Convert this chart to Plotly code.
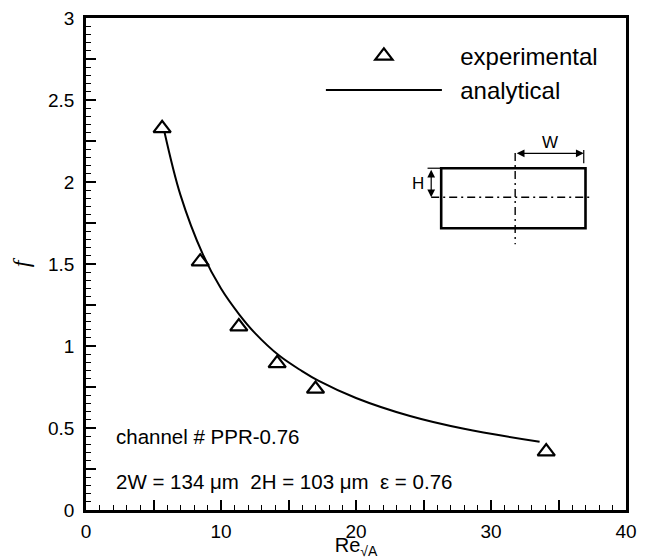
import plotly.graph_objects as go

# ---- data ----
re_exp = [5.64, 8.46, 11.32, 14.16, 17.0, 34.09]
f_exp = [2.327, 1.514, 1.118, 0.894, 0.738, 0.356]

re_ana = [5.8, 7.0, 8.65, 10.0, 11.37, 12.5, 14.33, 16.0, 17.17, 20.0, 24.0, 28.0, 33.6]
f_ana = [2.31, 1.92, 1.56, 1.35, 1.19, 1.08, 0.94, 0.847, 0.79, 0.683, 0.573, 0.495, 0.416]

x_tickvals = [0, 5, 10, 15, 20, 25, 30, 35, 40]
x_ticktext = ["0", "", "10", "", "20", "", "30", "", "40"]
y_tickvals = [0, 0.25, 0.5, 0.75, 1, 1.25, 1.5, 1.75, 2, 2.25, 2.5, 2.75, 3]
y_ticktext = ["0", "", "0.5", "", "1", "", "1.5", "", "2", "", "2.5", "", "3"]

FONT = "Liberation Sans, Arial, Helvetica, sans-serif"
NB = "\u00a0"

fig = go.Figure()
fig.add_trace(go.Scatter(
    x=re_exp, y=f_exp, mode="markers", name=NB * 2 + "experimental",
    marker=dict(symbol="triangle-up-open", size=15, color="black",
                line=dict(width=2.2, color="black")),
))
fig.add_trace(go.Scatter(
    x=re_ana, y=f_ana, mode="lines", name=NB * 2 + "analytical",
    line=dict(color="black", width=2, shape="spline", smoothing=1.0),
))

# ---- inset sketch of channel cross-section ----
shapes = [
    dict(type="rect", xref="x", yref="y", x0=26.31, x1=37.0, y0=1.718, y1=2.084,
         line=dict(color="black", width=2.6)),
    dict(type="line", xref="x", yref="y", x0=31.79, x1=31.79, y0=2.177, y1=1.62,
         line=dict(color="black", width=1.4, dash="8px,4px,2px,4px")),
    dict(type="line", xref="x", yref="y", x0=25.57, x1=37.54, y0=1.907, y1=1.907,
         line=dict(color="black", width=1.4, dash="8px,4px,2px,4px")),
    dict(type="line", xref="x", yref="y", x0=36.87, x1=36.87, y0=2.195, y1=2.114,
         line=dict(color="black", width=1.2)),
    dict(type="line", xref="x", yref="y", x0=25.3, x1=26.31, y0=2.084, y1=2.084,
         line=dict(color="black", width=1.2)),
]

annotations = [
    dict(x=36.87, y=2.175, ax=31.79, ay=2.175, xref="x", yref="y", axref="x", ayref="y",
         text="", showarrow=True, arrowside="end+start", arrowhead=2, arrowsize=1.3,
         arrowwidth=1.2, arrowcolor="black"),
    dict(x=25.57, y=1.907, ax=25.57, ay=2.084, xref="x", yref="y", axref="x", ayref="y",
         text="", showarrow=True, arrowside="end+start", arrowhead=2, arrowsize=1.3,
         arrowwidth=1.2, arrowcolor="black"),
    dict(x=34.4, y=2.238, xref="x", yref="y", text="W", showarrow=False,
         font=dict(family=FONT, size=17, color="black")),
    dict(x=25.15, y=1.99, xref="x", yref="y", text="H", showarrow=False, xanchor="right",
         font=dict(family=FONT, size=17, color="black")),
    dict(x=2.1, y=0.447, xref="x", yref="y", text="channel # PPR-0.76", showarrow=False,
         xanchor="left", font=dict(family=FONT, size=20.5, color="black")),
    dict(x=2.1, y=0.173, xref="x", yref="y",
         text="2W = 134 \u03bcm" + NB * 2 + "2H = 103 \u03bcm" + NB * 2 + "\u03b5 = 0.76",
         showarrow=False, xanchor="left", font=dict(family=FONT, size=20.5, color="black")),
]

axis_common = dict(
    showgrid=False, zeroline=False, showline=True, linecolor="black", linewidth=2.6,
    mirror=True, ticks="inside", ticklen=10, tickwidth=2.4, tickcolor="black",
    tickmode="array", tickfont=dict(family=FONT, size=19, color="black"),
    automargin=False, ticklabeloverflow="allow",
)

# page body has an 8px default margin, so the figure is 8px smaller than the window
fig.update_layout(
    width=638, height=551,
    margin=dict(l=78, r=20, t=10, b=49),
    paper_bgcolor="white", plot_bgcolor="white",
    showlegend=True,
    legend=dict(x=0.435, y=0.968, xanchor="left", yanchor="top",
                bgcolor="rgba(0,0,0,0)", itemwidth=116,
                font=dict(family=FONT, size=24, color="black"), tracegroupgap=0),
    xaxis=dict(range=[0, 40], tickvals=x_tickvals, ticktext=x_ticktext,
               minor=dict(ticks="inside", ticklen=5, tickwidth=1, tickcolor="black",
                          tickmode="linear", tick0=0, dtick=1),
               title=dict(text="Re<sub>\u221aA</sub>", standoff=5,
                          font=dict(family=FONT, size=20, color="black")),
               ticklabelstandoff=2,
               **axis_common),
    yaxis=dict(range=[0, 3], tickvals=y_tickvals, ticktext=y_ticktext,
               minor=dict(ticks="inside", ticklen=5, tickwidth=1, tickcolor="black",
                          tickmode="linear", tick0=0, dtick=0.05),
               title=dict(text="<i>f</i>", standoff=20,
                          font=dict(family="Liberation Serif, Times New Roman, serif",
                                    size=24, color="black")),
               ticklabelstandoff=5,
               **axis_common),
    shapes=shapes,
    annotations=annotations,
)

fig.write_html("out.html")
